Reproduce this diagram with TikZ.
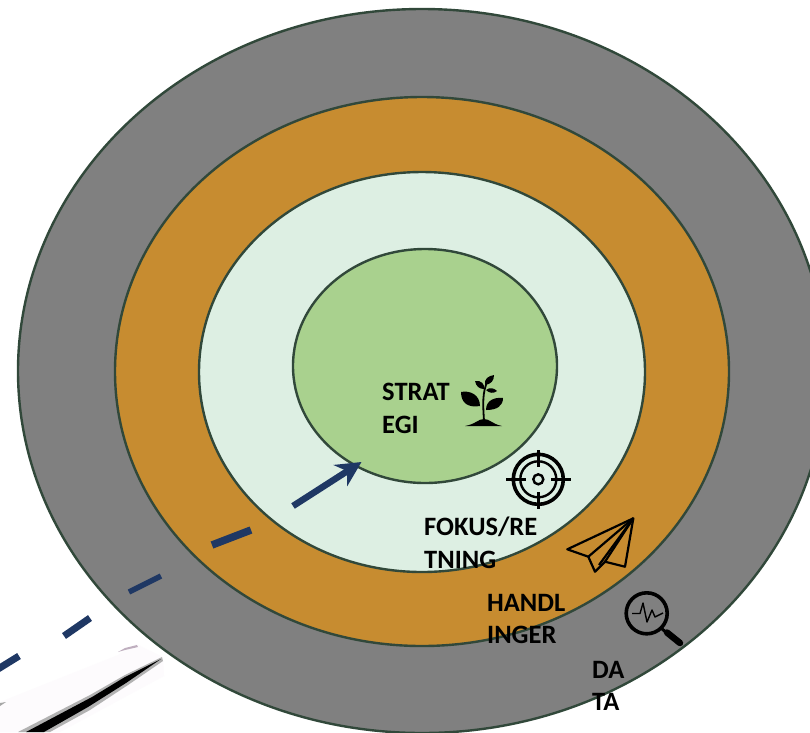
\documentclass[tikz,border=0pt]{standalone}
\usepackage{fontspec}
\setmainfont{Carlito}
\usetikzlibrary{arrows.meta,shapes.geometric}
\definecolor{ringedge}{HTML}{31483A}
\definecolor{datagrey}{HTML}{808080}
\definecolor{handlorange}{HTML}{C78C30}
\definecolor{fokuspale}{HTML}{DDEFE3}
\definecolor{stratgreen}{HTML}{A9D18E}
\definecolor{dashblue}{HTML}{1F3864}
\definecolor{scrappale}{HTML}{FDFBFD}
\begin{document}
\begin{tikzpicture}[x=1pt,y=-1pt]
    \tikzstyle{ring}=[ellipse,draw=ringedge,line width=2.4pt,inner sep=0pt]
    \tikzstyle{ringlabel}=[anchor=north west,align=left,inner sep=0pt,font=\bfseries\fontsize{26.5}{32.5}\selectfont]
    \tikzstyle{dashpart}=[dashblue,line width=6pt]
    \tikzstyle{icon}=[black,line width=2.2pt,line join=round]
    \useasboundingbox (0,0) rectangle (810,732);
    \clip (0,0) rectangle (810,732);
    \fill [white] (0,0) rectangle (810,732);
    \node [ring,fill=datagrey,minimum width=808pt,minimum height=724pt] (data) at (422,371) {};
    \node [ring,fill=handlorange,minimum width=614pt,minimum height=549pt] (handl) at (422,371.5) {};
    \node [ring,fill=fokuspale,minimum width=446pt,minimum height=400pt] (fokus) at (422,372) {};
    \node [ring,fill=stratgreen,minimum width=264pt,minimum height=234pt] (strat) at (425,366) {};
    \coordinate (arrowstart) at (293,506);
    \coordinate (arrowend) at (361.5,462);
    \draw [-{Stealth[length=25pt,width=25pt]},dashblue,line width=6.5pt] (arrowstart) -- (arrowend);
    \coordinate (dash1a) at (212,545);
    \coordinate (dash1b) at (251,530);
    \coordinate (dash2a) at (129,592);
    \coordinate (dash2b) at (161,576);
    \coordinate (dash3a) at (64,636);
    \coordinate (dash3b) at (90,618);
    \coordinate (dash4a) at (-2,669);
    \coordinate (dash4b) at (19,656);
    \draw [dashpart,line width=7.5pt] (dash1a) -- (dash1b);
    \draw [dashpart,line width=5.5pt] (dash2a) -- (dash2b);
    \draw [dashpart,line width=7pt] (dash3a) -- (dash3b);
    \draw [dashpart,line width=7pt] (dash4a) -- (dash4b);
    % torn scrap bottom left
    \fill [scrappale] (0,702) -- (118,655) -- (136,644) -- (163,657) -- (164,676) -- (60,732) -- (0,732) -- cycle;
    \fill [violet!25!gray!50] (118,652) -- (125,648) -- (137,645) -- (138,647) -- (125,650) -- cycle;
    \fill [black!30] (18,732) -- (90,695) -- (125,675) -- (162,657) -- (163,661) -- (128,685) -- (90,710) -- (50,732) -- cycle;
    \fill [black] (26,732) -- (92,697) -- (125,677) -- (161,659) -- (126,683) -- (88,707) -- (44,732) -- cycle;
    \fill [black!35] (0,703) -- (6,702) -- (0,706) -- cycle;
    % plant
    \fill [black] (465,426) .. controls (476,424) and (478,419) .. (484,419) .. controls (490,419) and (492,424) .. (502,426) -- cycle;
    \draw [icon,line width=1.8pt] (484,421) .. controls (483,405) and (482,392) .. (488,380);
    \fill [black] (461,392) .. controls (470,390) and (480,395) .. (480,406) .. controls (468,408) and (461,403) .. (461,392) -- cycle;
    \fill [black] (503,398) .. controls (495,397) and (486,400) .. (486,410) .. controls (497,410) and (503,406) .. (503,398) -- cycle;
    \fill [black] (494,375) .. controls (488,376) and (484,379) .. (485,385) .. controls (491,384) and (494,381) .. (494,375) -- cycle;
    \fill [black] (475,381) .. controls (481,380) and (485,384) .. (484,389) .. controls (479,389) and (476,386) .. (475,381) -- cycle;
    \fill [black] (486,390) .. controls (490,387) and (494,388) .. (497,391) .. controls (493,394) and (489,393) .. (486,390) -- cycle;
    % target
    \node [circle,draw=black,line width=3.6pt,minimum size=50pt,inner sep=0pt] (targetouter) at (538.3,479.3) {};
    \node [circle,draw=black,line width=2.4pt,minimum size=36pt,inner sep=0pt] (targetinner) at (538.3,479.3) {};
    \node [circle,draw=black,line width=2.4pt,minimum size=10pt,inner sep=0pt] (targetdot) at (538.3,479.3) {};
    \draw [icon,line width=3pt] (506,479.3) -- (526,479.3);
    \draw [icon,line width=3pt] (551,479.3) -- (571,479.3);
    \draw [icon,line width=3pt] (538.3,450) -- (538.3,467);
    \draw [icon,line width=3pt] (538.3,492) -- (538.3,509);
    % plane
    \draw [icon] (633.3,518.3) -- (567.3,549.3) -- (588.3,556.7) -- (595,571.7) -- (605,561.7) -- (625,566.7) -- cycle;
    \draw [icon] (633.3,518.3) -- (588.3,556.7);
    \draw [icon] (633.3,518.3) -- (599,565);
    \draw [icon] (633.3,518.3) -- (605,561.7);
    % magnifier
    \node [circle,draw=black,line width=3.6pt,minimum size=41pt,inner sep=0pt] (lens) at (646.7,613.3) {};
    \draw [black,line width=3pt] (661,628) -- (668,634);
    \draw [black,line width=6.5pt,line cap=round] (667,632.5) -- (680,643);
    \draw [black,line width=1.4pt,line join=round] (632,613.5) -- (640,613.5) -- (643,603) -- (647,622) -- (652,610) -- (655,617) -- (663,613);
    \node [ringlabel] (stratlabel) at (382,383) {STRAT\\EGI};
    \node [ringlabel] (fokuslabel) at (424,517) {FOKUS/RE\\TNING};
    \node [ringlabel] (handllabel) at (487,594) {HANDL\\INGER};
    \node [ringlabel] (datalabel) at (592,661) {DA\\TA};
\end{tikzpicture}
\end{document}
